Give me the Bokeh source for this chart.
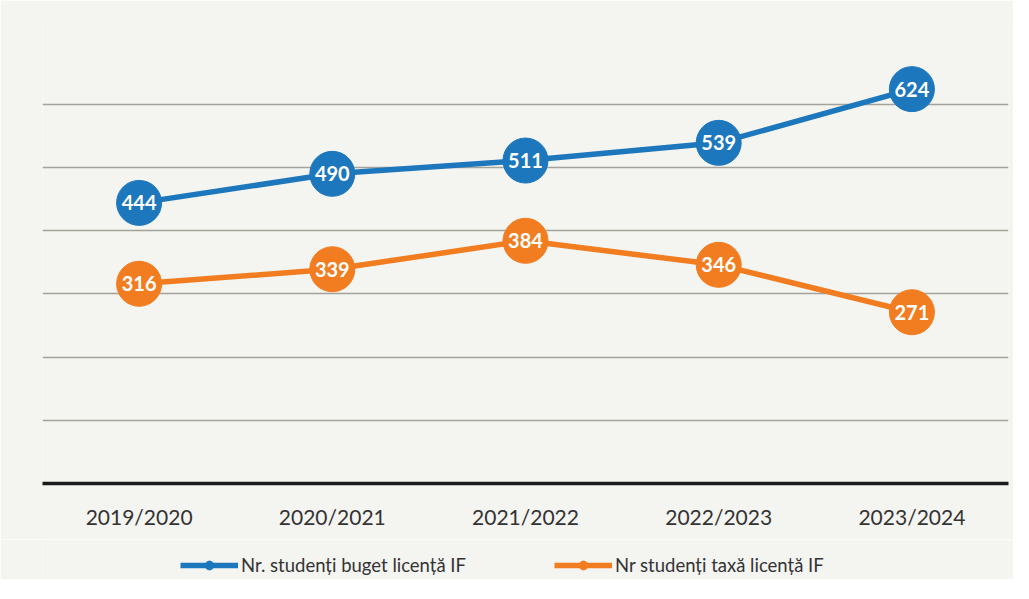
from bokeh.plotting import figure
from bokeh.layouts import column
from bokeh.models import FactorRange, Range1d, Legend, LegendItem, ColumnDataSource, FixedTicker
from bokeh.core.properties import value
from bokeh.embed import file_html
from bokeh.resources import INLINE

years = ["2019/2020", "2020/2021", "2021/2022", "2022/2023", "2023/2024"]
buget = [444, 490, 511, 539, 624]
taxa = [316, 339, 384, 346, 271]
grid_values = [100, 200, 300, 400, 500, 600]
name_buget = "Nr. studenți buget licență IF"
name_taxa = "Nr studenți taxă licență IF"

BLUE = "#1d77bd"
ORANGE = "#f27d20"
BG = "#f4f4f1"

src = ColumnDataSource(dict(
    x=years, buget=buget, taxa=taxa,
    lb=[str(v) for v in buget], lt=[str(v) for v in taxa],
))

p = figure(frame_width=966, frame_height=462,
           x_range=FactorRange(*years, range_padding=0),
           y_range=Range1d(0, 731),
           output_backend="svg", toolbar_location=None,
           min_border_left=42, min_border_right=5, min_border_top=21, min_border_bottom=56)
p.background_fill_color = BG
p.border_fill_color = BG
p.outline_line_color = None

p.yaxis.visible = False
p.xgrid.grid_line_color = None
p.ygrid.ticker = FixedTicker(ticks=grid_values)
p.ygrid.grid_line_color = "#a3a39c"
p.ygrid.grid_line_width = 1.3

ax = p.xaxis[0]
ax.axis_line_color = "#1a1a1a"
ax.axis_line_width = 3.5
ax.major_tick_line_color = None
ax.minor_tick_line_color = None
ax.major_label_standoff = 14
ax.major_label_text_font = "Lato"
ax.major_label_text_font_size = "21px"
ax.major_label_text_color = "#333333"

p.line("x", "buget", source=src, line_color=BLUE, line_width=5.5)
p.scatter("x", "buget", source=src, size=45, fill_color=BLUE, line_color=BLUE)
p.line("x", "taxa", source=src, line_color=ORANGE, line_width=5.5)
p.scatter("x", "taxa", source=src, size=45, fill_color=ORANGE, line_color=ORANGE)

for col, ycol in (("lb", "buget"), ("lt", "taxa")):
    p.text("x", ycol, text=col, source=src, text_align="center", text_baseline="middle",
           text_color="white", text_font=value("Lato"), text_font_style="bold",
           text_font_size="20px")

# legend strip below the chart
lf = figure(frame_width=966, frame_height=40, x_range=Range1d(0, 1), y_range=Range1d(0, 1),
            x_axis_type=None, y_axis_type=None, output_backend="svg", toolbar_location=None,
            min_border_left=42, min_border_right=5, min_border_top=0, min_border_bottom=0)
lf.background_fill_color = BG
lf.border_fill_color = BG
lf.outline_line_color = None
lf.xgrid.visible = False
lf.ygrid.visible = False
hidden = ColumnDataSource(dict(x=[-5, -4], y=[-5, -4]))
llb = lf.line("x", "y", source=hidden, line_color=BLUE, line_width=5.5)
lsb = lf.scatter("x", "y", source=hidden, size=12, fill_color=BLUE, line_color=BLUE)
llt = lf.line("x", "y", source=hidden, line_color=ORANGE, line_width=5.5)
lst = lf.scatter("x", "y", source=hidden, size=12, fill_color=ORANGE, line_color=ORANGE)

legend = Legend(items=[LegendItem(label=name_buget, renderers=[llb, lsb]),
                       LegendItem(label=name_taxa, renderers=[llt, lst])],
                orientation="horizontal", location=(138, 3),
                background_fill_alpha=0, border_line_color=None,
                label_text_font="Lato", label_text_font_size="18.5px",
                label_text_color="#333333",
                glyph_width=58, glyph_height=22, spacing=88, label_standoff=3,
                margin=0, padding=6)
lf.add_layout(legend, "center")

layout = column(p, lf, spacing=0)
open("out.html", "w").write(file_html(layout, INLINE))
